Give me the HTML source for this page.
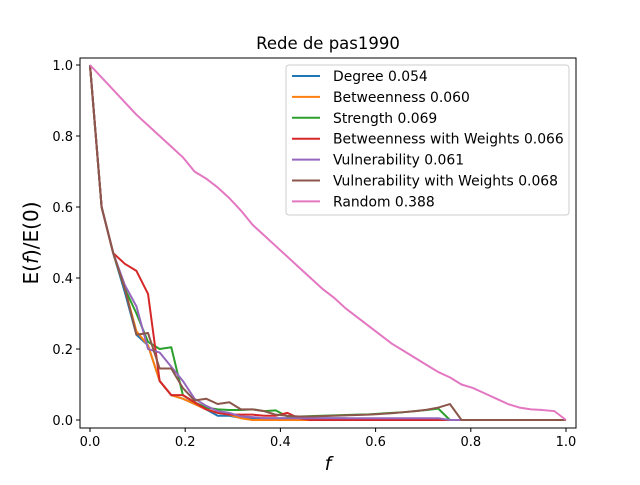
<!DOCTYPE html>
<html><head><meta charset="utf-8"><style>
body{margin:0;background:#fff;font-family:"Liberation Sans","DejaVu Sans",sans-serif}
svg text{font-family:"DejaVu Sans","Liberation Sans",sans-serif}
</style></head><body>
<svg id="c" width="640" height="480"></svg>
<script>
const xs=[];for(let i=0;i<42;i++)xs.push(i/41);
const degree=[1,0.6,0.47,0.36,0.24,0.21,0.11,0.07,0.06,0.045,0.03,0.012,0.012,0.006,0.005,0.005,0.005,0.005,0.005,0.005,0.005,0.005,0.005,0,0,0,0,0,0,0,0,0,0,0,0,0,0,0,0,0,0,0];
const betweenness=[1,0.6,0.47,0.37,0.25,0.21,0.11,0.07,0.06,0.045,0.03,0.02,0.015,0.005,0,0,0,0,0,0,0,0,0,0,0,0,0,0,0,0,0,0,0,0,0,0,0,0,0,0,0,0];
const strength=[1,0.6,0.47,0.37,0.3,0.22,0.2,0.205,0.07,0.05,0.035,0.03,0.028,0.028,0.03,0.025,0.027,0.01,0.01,0.011,0.012,0.013,0.014,0.015,0.016,0.018,0.02,0.022,0.025,0.028,0.032,0.0,0,0,0,0,0,0,0,0,0,0];
const betwWeights=[1,0.6,0.47,0.44,0.42,0.355,0.11,0.07,0.07,0.05,0.03,0.02,0.015,0.015,0.015,0.012,0.012,0.02,0.005,0,0,0,0,0,0,0,0,0,0,0,0,0,0,0,0,0,0,0,0,0,0,0];
const vulnerability=[1,0.6,0.47,0.38,0.32,0.2,0.19,0.15,0.11,0.06,0.04,0.025,0.02,0.01,0.008,0.005,0.005,0.005,0.005,0.005,0.005,0.005,0.005,0.005,0.005,0.005,0.005,0.005,0.005,0.005,0.005,0,0,0,0,0,0,0,0,0,0,0];
const vulnWeights=[1,0.6,0.47,0.37,0.24,0.245,0.145,0.145,0.09,0.055,0.06,0.045,0.05,0.03,0.03,0.025,0.015,0.012,0.01,0.01,0.011,0.012,0.013,0.014,0.015,0.017,0.019,0.022,0.025,0.029,0.035,0.045,0,0,0,0,0,0,0,0,0,0];
const random=[1,0.965,0.93,0.895,0.86,0.83,0.8,0.77,0.74,0.7,0.68,0.655,0.625,0.59,0.55,0.52,0.49,0.46,0.43,0.4,0.37,0.345,0.315,0.29,0.265,0.24,0.215,0.195,0.175,0.155,0.135,0.12,0.1,0.09,0.075,0.06,0.045,0.035,0.03,0.028,0.025,0];
const xTicks=[0,0.2,0.4,0.6,0.8,1.0];
const yTicks=[0,0.2,0.4,0.6,0.8,1.0];
const seriesNames=["Degree 0.054","Betweenness 0.060","Strength 0.069","Betweenness with Weights 0.066","Vulnerability 0.061","Vulnerability with Weights 0.068","Random 0.388"];
const colors=["#1f77b4","#ff7f0e","#2ca02c","#d62728","#9467bd","#8c564b","#e377c2"];
const seriesData=[degree,betweenness,strength,betwWeights,vulnerability,vulnWeights,random];
const L=80,R=576,T=58,B=428;
const X=v=>90+v*476, Y=v=>420-v*355;
const s=document.getElementById('c');const NS='http://www.w3.org/2000/svg';
function el(t,a,p){const e=document.createElementNS(NS,t);for(const k in a)e.setAttribute(k,a[k]);(p||s).appendChild(e);return e;}
let t=el('text',{x:328,y:49,'text-anchor':'middle','font-size':16.5});t.textContent='Rede de pas1990';


seriesData.forEach((d,k)=>{const p=el('polyline',{points:d.map((v,i)=>X(xs[i])+','+Y(v)).join(' '),fill:'none',stroke:colors[k],'stroke-width':2,'stroke-linejoin':'round'});

});
const fr=el('rect',{x:L,y:T,width:R-L,height:B-T,fill:'none',stroke:'#000','stroke-width':1});


xTicks.forEach(v=>{el('line',{x1:X(v),x2:X(v),y1:B,y2:B+4,stroke:'#000'});const q=el('text',{x:X(v),y:B+18,'text-anchor':'middle','font-size':13});q.textContent=v.toFixed(1);

});
yTicks.forEach(v=>{el('line',{x1:L-4,x2:L,y1:Y(v),y2:Y(v),stroke:'#000'});const q=el('text',{x:L-7,y:Y(v)+5,'text-anchor':'end','font-size':13});q.textContent=v.toFixed(1);

});
t=el('text',{x:328,y:470,'text-anchor':'middle','font-size':19,'font-style':'italic'});t.textContent='f';


t=el('text',{x:0,y:0,'text-anchor':'middle','font-size':20,transform:'translate(38,243) rotate(-90)'});


t.innerHTML='E(<tspan font-style="italic">f</tspan>)/E(0)';
const lg=el('g',{});


el('rect',{x:286,y:65,width:283,height:150,rx:3,fill:'#fff',stroke:'#ccc','fill-opacity':0.8},lg);
seriesNames.forEach((n,k)=>{const y=76+k*20.9;el('line',{x1:292,x2:320,y1:y,y2:y,stroke:colors[k],'stroke-width':2},lg);const q=el('text',{x:333,y:y+5,'font-size':13.9},lg);q.textContent=n;

});
</script>
</body></html>
